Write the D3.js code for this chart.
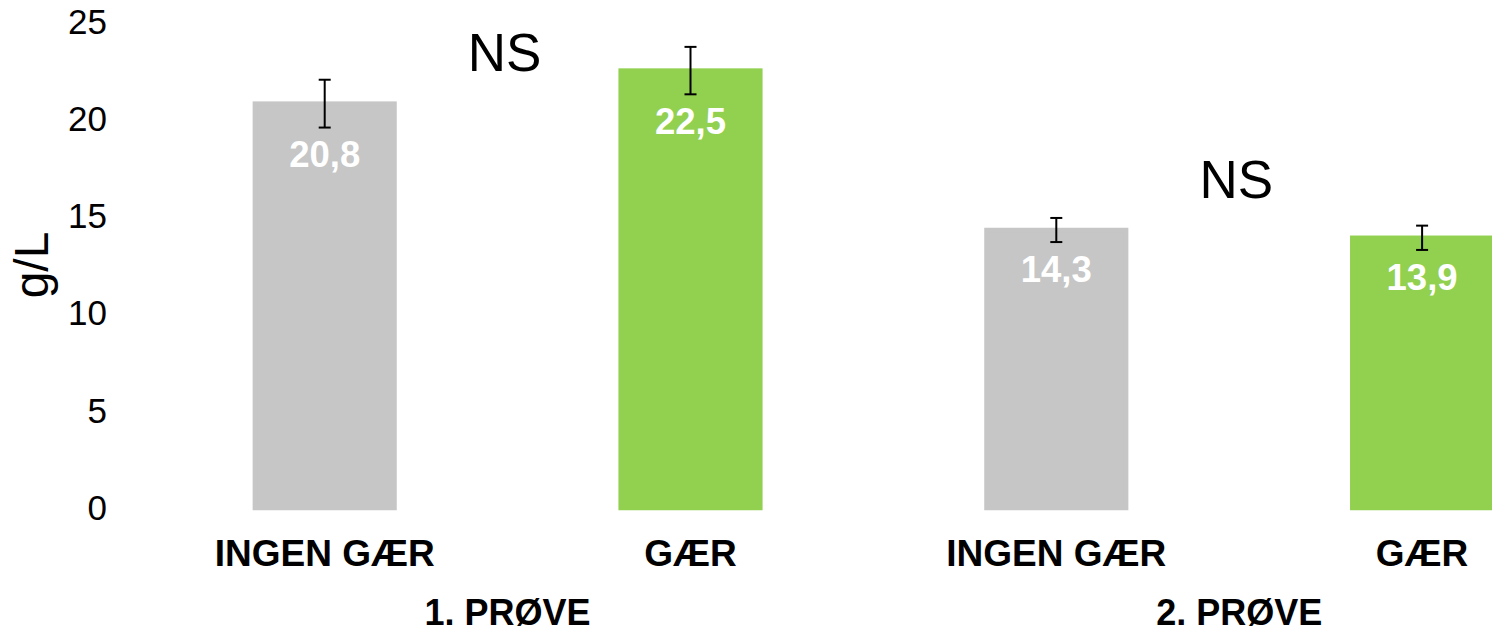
<!DOCTYPE html>
<html>
<head>
<meta charset="utf-8">
<script src="https://cdn.jsdelivr.net/npm/d3@7/dist/d3.min.js"></script>
<style>
  html, body { margin: 0; padding: 0; background: #fff; }
  svg { display: block; font-family: "Liberation Sans", Arial, sans-serif; }
</style>
</head>
<body>
<svg id="chart" width="1492" height="634"></svg>
<script>
// Two samples (prøver), each measured without and with yeast (gær)
const groups = ["1. PRØVE", "2. PRØVE"];
const treatments = ["INGEN GÆR", "GÆR"];
const values = [[20.8, 22.5], [14.3, 13.9]];
const errors = [[1.23, 1.22], [0.62, 0.625]];
const yTicks = [0, 5, 10, 15, 20, 25];
const significance = ["NS", "NS"];
const significanceAt = [22.5, 15.95];   // height of each "NS" note, in g/L
const colors = ["#c6c6c6", "#92d050"];

const bars = [];
groups.forEach((g, gi) => treatments.forEach((t, ti) => {
  bars.push({ key: g + "|" + t, group: g, gi, treatment: t, ti,
              value: values[gi][ti], err: errors[gi][ti] });
}));

const svg = d3.select("#chart");

const x = d3.scaleBand()
  .domain(bars.map(d => d.key))
  .range([141.8, 1605])
  .paddingInner(0.606)
  .paddingOuter(0.303);

const y = d3.scaleLinear().domain([0, 25]).range([508, 22]);

// Y axis: labels only
const yAxis = svg.append("g")
  .attr("transform", "translate(107,0)")
  .call(d3.axisLeft(y).tickValues(yTicks).tickSize(0).tickPadding(0).tickFormat(d3.format("d")));
yAxis.select(".domain").remove();
yAxis.selectAll("text")
  .attr("font-size", 35)
  .attr("font-family", "Liberation Sans, Arial, sans-serif")
  .attr("fill", "#000");

svg.append("text")
  .attr("transform", `translate(48,${(y(0) + y(25)) / 2}) rotate(-90)`)
  .attr("text-anchor", "middle")
  .attr("font-size", 48)
  .attr("fill", "#000")
  .text("g/L");

// Bars (with a border in the fill colour)
const bw = x.bandwidth();
svg.append("g").selectAll("rect")
  .data(bars)
  .join("rect")
  .attr("x", d => x(d.key) + 2.25)
  .attr("width", bw - 4.5)
  .attr("y", d => y(d.value))
  .attr("height", d => y(0) - y(d.value))
  .attr("fill", d => colors[d.ti])
  .attr("stroke", d => colors[d.ti])
  .attr("stroke-width", 4.5);

// Error bars
const eb = svg.append("g").attr("stroke", "#000").attr("stroke-width", 2).attr("fill", "none");
bars.forEach(d => {
  const cx = x(d.key) + bw / 2;
  const top = y(d.value + d.err), bot = y(d.value - d.err);
  eb.append("line").attr("x1", cx).attr("x2", cx).attr("y1", top).attr("y2", bot);
  eb.append("line").attr("x1", cx - 6).attr("x2", cx + 6).attr("y1", top).attr("y2", top);
  eb.append("line").attr("x1", cx - 6).attr("x2", cx + 6).attr("y1", bot).attr("y2", bot);
});

// Value labels inside the bars
svg.append("g").selectAll("text")
  .data(bars)
  .join("text")
  .attr("x", d => x(d.key) + bw / 2)
  .attr("y", d => y(d.value - d.err) + 27)
  .attr("dy", "0.35em")
  .attr("text-anchor", "middle")
  .attr("font-size", 36.5)
  .attr("font-weight", "bold")
  .attr("fill", "#fff")
  .text(d => d3.format(".1f")(d.value).replace(".", ","));

// Treatment labels
svg.append("g").selectAll("text")
  .data(bars)
  .join("text")
  .attr("x", d => x(d.key) + bw / 2)
  .attr("y", 566)
  .attr("text-anchor", "middle")
  .attr("font-size", 37)
  .attr("font-weight", "bold")
  .attr("fill", "#000")
  .text(d => d.treatment);

// Group labels and significance notes
const groupCenter = g => {
  const ks = bars.filter(b => b.group === g).map(b => x(b.key) + bw / 2);
  return d3.mean(ks);
};
svg.append("g").selectAll("text")
  .data(groups)
  .join("text")
  .attr("x", g => groupCenter(g))
  .attr("y", 625)
  .attr("text-anchor", "middle")
  .attr("font-size", 36)
  .attr("font-weight", "bold")
  .attr("fill", "#000")
  .text(g => g);

svg.append("g").selectAll("text")
  .data(groups)
  .join("text")
  .attr("x", g => groupCenter(g) - 3)
  .attr("y", (g, i) => y(significanceAt[i]))
  .attr("text-anchor", "middle")
  .attr("font-size", 53)
  .attr("fill", "#000")
  .text((g, i) => significance[i]);
</script>
</body>
</html>
